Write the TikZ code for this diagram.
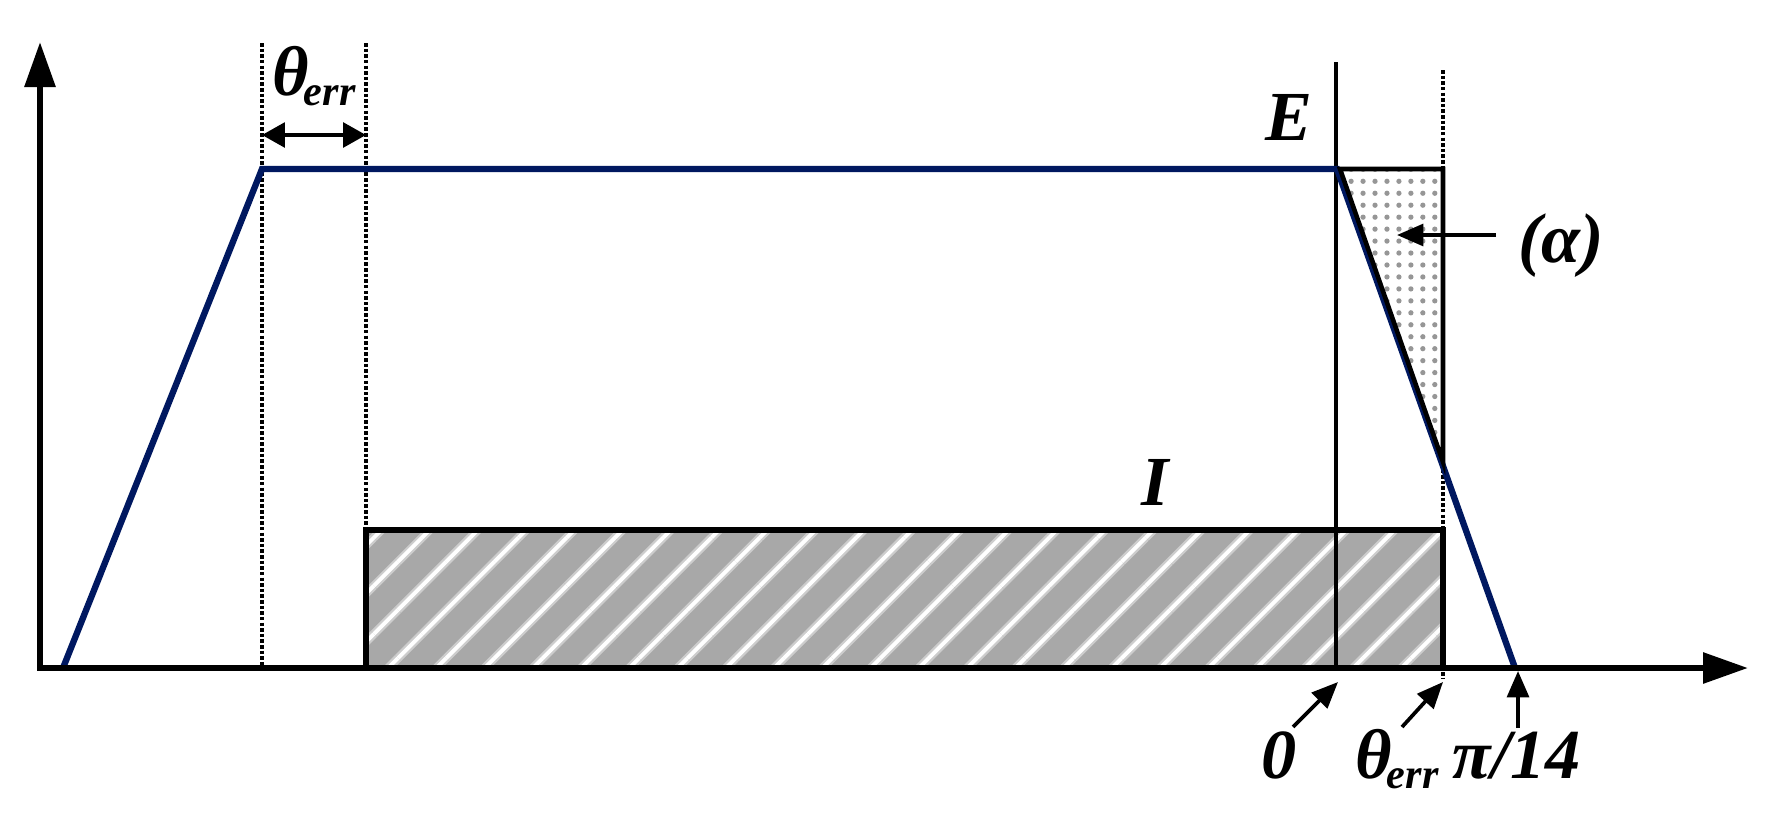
\documentclass[tikz,border=0pt]{standalone}
\usepackage{fontspec}
\setmainfont{Liberation Serif}
\usetikzlibrary{arrows.meta,patterns.meta}
\definecolor{navy}{RGB}{0,24,96}
\definecolor{hatchgray}{RGB}{168,168,168}
\definecolor{hatchlight}{RGB}{205,205,205}
\definecolor{dotgray}{RGB}{150,150,150}
\newcommand\thetaerr{θ\kern-1.5pt\raisebox{-3pt}{\fontsize{12}{12}\selectfont err}}
\begin{document}
\begin{tikzpicture}[x=0.01cm,y=-0.01cm,
  lbl/.style={font=\fontsize{20}{24}\selectfont\bfseries\itshape, inner sep=0pt},
  axis/.style={line width=1.8pt, -{Triangle[length=12.8pt,width=8.5pt]}},
  ptr/.style={line width=1.05pt, -{Triangle[length=7.5pt,width=6.2pt]}},
  dptr/.style={line width=1.05pt, {Triangle[length=6.5pt,width=7pt]}-{Triangle[length=6.5pt,width=7pt]}},
  guide/.style={line width=1pt, dash pattern=on 1pt off 0.6pt},
  curve/.style={navy, line width=1.8pt, line join=miter},
  border/.style={line width=1.8pt},
]
\useasboundingbox (0,0) rectangle (1770,815);

% coordinates
\coordinate (ystart) at (40,670);
\coordinate (yend) at (40,42);
\coordinate (xstart) at (37,668);
\coordinate (xend) at (1748,668);
\coordinate (c0) at (63,668);
\coordinate (c1) at (262,169);
\coordinate (c2) at (1337,169);
\coordinate (c3) at (1515,668);
\coordinate (rA) at (366,530);
\coordinate (rB) at (1443,668);
\coordinate (pA) at (1340,169);
\coordinate (pB) at (1443,169);
\coordinate (pC) at (1443,462);

% hatched rectangle I
\path[preaction={fill=hatchgray},
      preaction={pattern={Lines[angle=45,distance=9.7pt,line width=2.4pt]}, pattern color=hatchlight},
      pattern={Lines[angle=45,distance=9.7pt,line width=1.1pt]}, pattern color=white]
  (rA) rectangle (rB);

% dotted region (alpha)
\path[pattern={Dots[radius=0.75pt,distance=3.4pt]}, pattern color=dotgray] (pA) -- (pB) -- (pC) -- cycle;

% guide lines
\coordinate (g1t) at (262,43);  \coordinate (g1b) at (262,668);
\coordinate (g2t) at (366,43);  \coordinate (g2b) at (366,530);
\coordinate (g3t) at (1443,70); \coordinate (g3b) at (1443,678);
\draw[guide] (g1t) -- (g1b);
\draw[guide] (g2t) -- (g2b);
\draw[guide] (g3t) -- (g3b);

% rectangle border
\draw[border] (rA) rectangle (rB);

% solid vertical line at 0
\coordinate (vt) at (1336,62); \coordinate (vb) at (1336,668);
\draw[line width=1.05pt] (vt) -- (vb);

% blue trapezoid
\draw[curve] (c0) -- (c1) -- (c2) -- (c3);

% border of alpha region
\draw[line width=1.3pt, line join=miter] (pA) -- (pB) -- (pC) -- cycle;

% axes
\draw[axis] (ystart) -- (yend);
\draw[axis] (xstart) -- (xend);

% theta_err span
\coordinate (dL) at (262,135); \coordinate (dR) at (366,135);
\draw[dptr] (dL) -- (dR);

% labels
\node[lbl, anchor=base west] (terrT) at (272,95) {\thetaerr};
\node[lbl, anchor=base] (E) at (1289,140) {E};
\node[lbl, anchor=base] (I) at (1155,505) {I};
\node[lbl, anchor=base] (alpha) at (1561,262) {(α)};
\node[lbl, anchor=base] (zero) at (1279,778) {0};
\node[lbl, anchor=base west] (terrB) at (1355,778) {\thetaerr};
\node[lbl, anchor=base west] (pi14) at (1452,778) {π/14};

% pointer arrows
\coordinate (aS) at (1496,235); \coordinate (aT) at (1397,235);
\draw[ptr] (aS) -- (aT);
\coordinate (zS) at (1293,727); \coordinate (zT) at (1338,682);
\draw[ptr] (zS) -- (zT);
\coordinate (tS) at (1402,727); \coordinate (tT) at (1443,682);
\draw[ptr] (tS) -- (tT);
\coordinate (qS) at (1518,728); \coordinate (qT) at (1518,671);
\draw[ptr] (qS) -- (qT);
\end{tikzpicture}
\end{document}
